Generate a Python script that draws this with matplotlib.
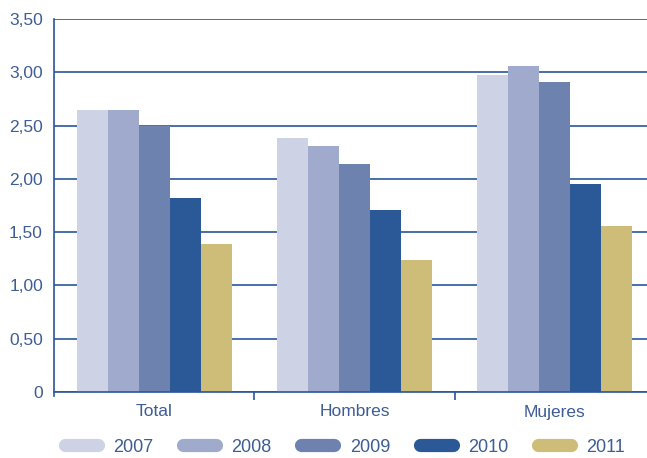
import matplotlib.pyplot as plt
from matplotlib.lines import Line2D
from matplotlib.ticker import FuncFormatter
import numpy as np

plt.rcParams["font.family"] = ["Liberation Sans", "DejaVu Sans"]

categories = ["Total", "Hombres", "Mujeres"]
years = ["2007", "2008", "2009", "2010", "2011"]
values = {
    "2007": [2.65, 2.38, 2.97],
    "2008": [2.65, 2.31, 3.06],
    "2009": [2.50, 2.14, 2.91],
    "2010": [1.82, 1.71, 1.95],
    "2011": [1.39, 1.24, 1.56],
}
colors = ["#cdd2e5", "#a0aacc", "#6e82b0", "#2b5896", "#cebd78"]
text_col = "#3d5d94"
line_col = "#2a5599"

fig = plt.figure(figsize=(6.47, 4.58), dpi=100)
# axis spans 3 categories of ~200px from x=54, slightly past the image edge
ax = fig.add_axes([54 / 647, (458 - 392) / 458, 601 / 647, 373 / 458])

x = np.arange(len(categories)) + 0.5
w = 0.155
for i, y in enumerate(years):
    ax.bar(x + (i - 2) * w, values[y], width=w, color=colors[i], linewidth=0, zorder=2)

ax.set_xlim(0, 3)
ax.set_ylim(0, 3.5)
ax.set_yticks(np.arange(0, 3.51, 0.5))
ax.yaxis.set_major_formatter(FuncFormatter(lambda v, p: "0" if v == 0 else f"{v:.2f}".replace(".", ",")))
ax.grid(axis="y", color=line_col, linewidth=1.2, zorder=1)
ax.set_axisbelow(True)

ax.set_xticks([1, 2], minor=False)
ax.set_xticklabels([])
ax.set_xticks(x, minor=True)
ax.set_xticklabels(categories, minor=True)
ax.tick_params(axis="x", which="major", direction="out", length=6, color=line_col, width=1.2)
ax.tick_params(axis="x", which="minor", length=0, pad=9, labelsize=12.5, labelcolor=text_col)
ax.tick_params(axis="y", length=0, pad=8, labelsize=12.5, labelcolor=text_col)

for s in ["top", "right"]:
    ax.spines[s].set_visible(False)
ax.spines["left"].set_color(line_col)
ax.spines["left"].set_linewidth(1.2)
ax.spines["left"].set_bounds(-0.04, 3.5)
ax.spines["bottom"].set_color(line_col)
ax.spines["bottom"].set_linewidth(1.2)

handles = [Line2D([0], [0], color=c, lw=9.5, solid_capstyle="round") for c in colors]
leg = fig.legend(handles, years, loc="center", bbox_to_anchor=(345 / 647, (458 - 447) / 458),
                 ncol=5, frameon=False, fontsize=13, handlelength=1.82, handletextpad=0.86,
                 columnspacing=1.64)
for t in leg.get_texts():
    t.set_color(text_col)

fig.savefig("out.png", dpi=100)
